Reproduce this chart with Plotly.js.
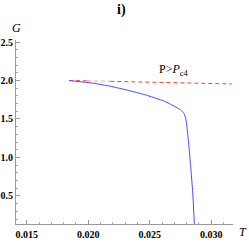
<!DOCTYPE html>
<html>
<head>
<meta charset="utf-8">
<script src="https://cdn.plot.ly/plotly-3.0.1.min.js"></script>
<style>html,body{margin:0;padding:0;background:#fff;}#chart{width:249px;height:252px;}</style>
</head>
<body>
<div id="chart"></div>
<script>
// Blue curve (G vs T)
const blueT = [0.01844, 0.0204, 0.0218, 0.0233, 0.0246, 0.0262, 0.0275, 0.02778, 0.02795, 0.02814, 0.02833, 0.0285, 0.02863];
const blueG = [2.0, 1.965, 1.925, 1.87, 1.815, 1.73, 1.62, 1.575, 1.487, 1.227, 0.88, 0.54, 0.125];
// Red dashed curve (with a pale segment near its start)
const redT = [0.01844, 0.0199, 0.0218, 0.0317];
const redG = [2.0, 1.995, 1.989, 1.955];
// Tick labels
const xTicks = [0.015, 0.020, 0.025, 0.030];
const yTicks = [0.5, 1.0, 1.5, 2.0, 2.5];
const titleText = "i)";
const curveLabel = "P&gt;<i>P</i><sub>c4</sub>";

const dashRed = {color: '#ff3b3b', width: 1, dash: '4px,3px'};
const traces = [
  {x: redT.slice(0, 2), y: redG.slice(0, 2), mode: 'lines', line: dashRed, hoverinfo: 'skip'},
  {x: redT.slice(1, 3), y: redG.slice(1, 3), mode: 'lines', line: {color: '#f7b3b3', width: 1.2, dash: '4px,3px'}, hoverinfo: 'skip'},
  {x: redT.slice(2), y: redG.slice(2), mode: 'lines', line: dashRed, hoverinfo: 'skip'},
  {x: blueT, y: blueG, mode: 'lines', line: {color: '#4a4aff', width: 1, shape: 'spline', smoothing: 0.5}, hoverinfo: 'skip'}
];

const tickFont = {family: 'Liberation Serif', size: 10, color: '#000', weight: 'bold'};
const layout = {
  width: 249, height: 252,
  margin: {l: 16, r: 16, t: 40, b: 28},
  paper_bgcolor: '#fff', plot_bgcolor: '#fff',
  showlegend: false,
  xaxis: {
    range: [0.01413, 0.03177], showgrid: false, zeroline: false,
    showline: true, linecolor: '#999', linewidth: 1,
    ticks: 'inside', ticklen: 4, tickcolor: '#999', tickwidth: 1,
    tickvals: xTicks, ticktext: xTicks.map(v => v.toFixed(3)),
    tickfont: tickFont, ticklabelstandoff: 1,
    minor: {dtick: 0.001, tick0: 0, ticks: 'inside', ticklen: 2, tickcolor: '#aaa', showgrid: false}
  },
  yaxis: {
    range: [0.136, 2.526], showgrid: false, zeroline: false,
    showline: true, linecolor: '#999', linewidth: 1,
    ticks: 'inside', ticklen: 4, tickcolor: '#999', tickwidth: 1,
    tickvals: yTicks, ticktext: yTicks.map(v => v.toFixed(1)),
    tickfont: tickFont,
    minor: {dtick: 0.1, tick0: 0, ticks: 'inside', ticklen: 2, tickcolor: '#aaa', showgrid: false}
  },
  annotations: [
    {text: '<b>' + titleText + '</b>', xref: 'paper', yref: 'paper', x: 0.485, y: 1.163, xanchor: 'center', yanchor: 'middle', showarrow: false, font: {family: 'Liberation Serif', size: 14, color: '#000'}},
    {text: '<i>G</i>', xref: 'paper', yref: 'paper', x: 0, y: 1.065, xanchor: 'center', yanchor: 'middle', showarrow: false, font: {family: 'Liberation Serif', size: 12, color: '#000'}},
    {text: '<i>T</i>', xref: 'paper', yref: 'paper', x: 1.045, y: -0.045, xanchor: 'center', yanchor: 'middle', showarrow: false, font: {family: 'Liberation Serif', size: 12, color: '#000'}},
    {text: curveLabel, xref: 'x', yref: 'y', x: 0.02698, y: 2.136, xanchor: 'center', yanchor: 'middle', showarrow: false, font: {family: 'Liberation Serif', size: 12, color: '#000'}}
  ]
};
Plotly.newPlot('chart', traces, layout, {displayModeBar: false, staticPlot: true});
</script>
</body>
</html>
